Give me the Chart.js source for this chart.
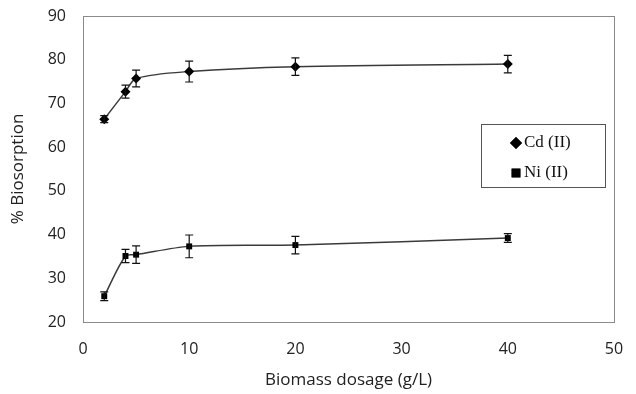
<!DOCTYPE html>
<html>
<head>
<meta charset="utf-8">
<script src="https://cdn.jsdelivr.net/npm/chart.js@4"></script>
<style>
  body { margin: 0; background: #fff; }
  #wrap { width: 636px; height: 394px; }
</style>
</head>
<body>
<div id="wrap"><canvas id="biosorptionChart" width="636" height="394"></canvas></div>
<script>
const dosages = [2, 4, 5, 10, 20, 40];
const cdValues = [66.4, 72.7, 75.7, 77.3, 78.4, 79.0];
const cdErrors = [0.8, 1.5, 1.9, 2.4, 2.0, 2.0];
const niValues = [25.9, 35.1, 35.4, 37.3, 37.6, 39.2];
const niErrors = [1.0, 1.5, 2.0, 2.6, 2.0, 1.0];
const seriesLabels = ['Cd (II)', 'Ni (II)'];

const tickFont = { family: '"Open Sans", sans-serif', size: 16 };
const titleFont = { family: '"Open Sans", sans-serif', size: 17 };

function toPoints(values) {
    return dosages.map((d, i) => ({ x: d, y: values[i] }));
}

// vertical error bars with caps
const errorBars = {
    id: 'errorBars',
    afterDatasetsDraw(chart) {
        const ctx = chart.ctx;
        const yScale = chart.scales.y;
        ctx.save();
        ctx.strokeStyle = '#111';
        ctx.lineWidth = 1.2;
        chart.data.datasets.forEach((ds, di) => {
            const meta = chart.getDatasetMeta(di);
            meta.data.forEach((pt, i) => {
                const v = ds.data[i].y;
                const e = ds.errors[i];
                const yTop = yScale.getPixelForValue(v + e);
                const yBot = yScale.getPixelForValue(v - e);
                ctx.beginPath();
                ctx.moveTo(pt.x, yTop); ctx.lineTo(pt.x, yBot);
                ctx.moveTo(pt.x - 4, yTop); ctx.lineTo(pt.x + 4, yTop);
                ctx.moveTo(pt.x - 4, yBot); ctx.lineTo(pt.x + 4, yBot);
                ctx.stroke();
            });
        });
        ctx.restore();
    }
};

// plot area frame
const frame = {
    id: 'frame',
    beforeDatasetsDraw(chart) {
        const a = chart.chartArea;
        const ctx = chart.ctx;
        ctx.save();
        ctx.strokeStyle = '#8a8a8a';
        ctx.lineWidth = 1;
        ctx.strokeRect(Math.round(a.left) + 0.5, Math.round(a.top) + 0.5,
            Math.round(a.right - a.left), Math.round(a.bottom - a.top));
        ctx.restore();
    }
};

// boxed legend inside the plot
const boxLegend = {
    id: 'boxLegend',
    afterDraw(chart) {
        const ctx = chart.ctx;
        const x = 481, y = 124, w = 124, h = 63;
        const markerSize = [6, 6.2];
        ctx.save();
        ctx.fillStyle = '#fff';
        ctx.fillRect(x, y, w, h);
        ctx.strokeStyle = '#555';
        ctx.lineWidth = 1;
        ctx.strokeRect(x + 0.5, y + 0.5, w, h);
        ctx.font = '17px "Liberation Serif", "DejaVu Serif", serif';
        ctx.textBaseline = 'middle';
        chart.data.datasets.forEach((ds, i) => {
            const cy = y + 19 + i * 30;
            ctx.fillStyle = '#000';
            Chart.helpers.drawPoint(ctx, {
                pointStyle: ds.pointStyle, radius: markerSize[i], borderWidth: 0
            }, x + 35, cy);
            ctx.fill();
            ctx.fillStyle = '#111';
            ctx.fillText(ds.label, x + 43, cy);
        });
        ctx.restore();
    }
};

const ctx = document.getElementById('biosorptionChart').getContext('2d');
new Chart(ctx, {
    type: 'scatter',
    data: {
        datasets: [{
            label: seriesLabels[0],
            data: toPoints(cdValues),
            errors: cdErrors,
            showLine: true,
            tension: 0.3,
            borderColor: '#3a3a3a',
            borderWidth: 1.5,
            pointStyle: 'rectRot',
            pointRadius: 5,
            pointBackgroundColor: '#000',
            pointBorderColor: '#000',
            pointBorderWidth: 0
        }, {
            label: seriesLabels[1],
            data: toPoints(niValues),
            errors: niErrors,
            showLine: true,
            tension: 0.3,
            borderColor: '#3a3a3a',
            borderWidth: 1.5,
            pointStyle: 'rect',
            pointRadius: 4.2,
            pointBackgroundColor: '#000',
            pointBorderColor: '#000',
            pointBorderWidth: 0
        }]
    },
    options: {
        responsive: false,
        animation: false,
        layout: { padding: { left: 4, right: 22, top: 16, bottom: 0 } },
        plugins: {
            legend: { display: false },
            tooltip: { enabled: false }
        },
        scales: {
            x: {
                type: 'linear',
                min: 0,
                max: 50,
                grid: { display: false, drawTicks: false },
                border: { display: false },
                afterFit(scale) {
                    scale.height = 72;
                    scale.paddingLeft = 0;
                    scale.paddingRight = 0;
                },
                ticks: { stepSize: 10, padding: 18, color: '#222', font: tickFont },
                title: { display: true, text: 'Biomass dosage (g/L)', color: '#222', font: titleFont }
            },
            y: {
                min: 20,
                max: 90,
                grid: { display: false, drawTicks: false },
                border: { display: false },
                afterFit(scale) {
                    scale.width = 79;
                    scale.paddingTop = 0;
                    scale.paddingBottom = 0;
                },
                ticks: { stepSize: 10, padding: 17, color: '#222', font: tickFont },
                title: { display: true, text: '% Biosorption', color: '#222', font: titleFont }
            }
        }
    },
    plugins: [frame, errorBars, boxLegend]
});
</script>
</body>
</html>
